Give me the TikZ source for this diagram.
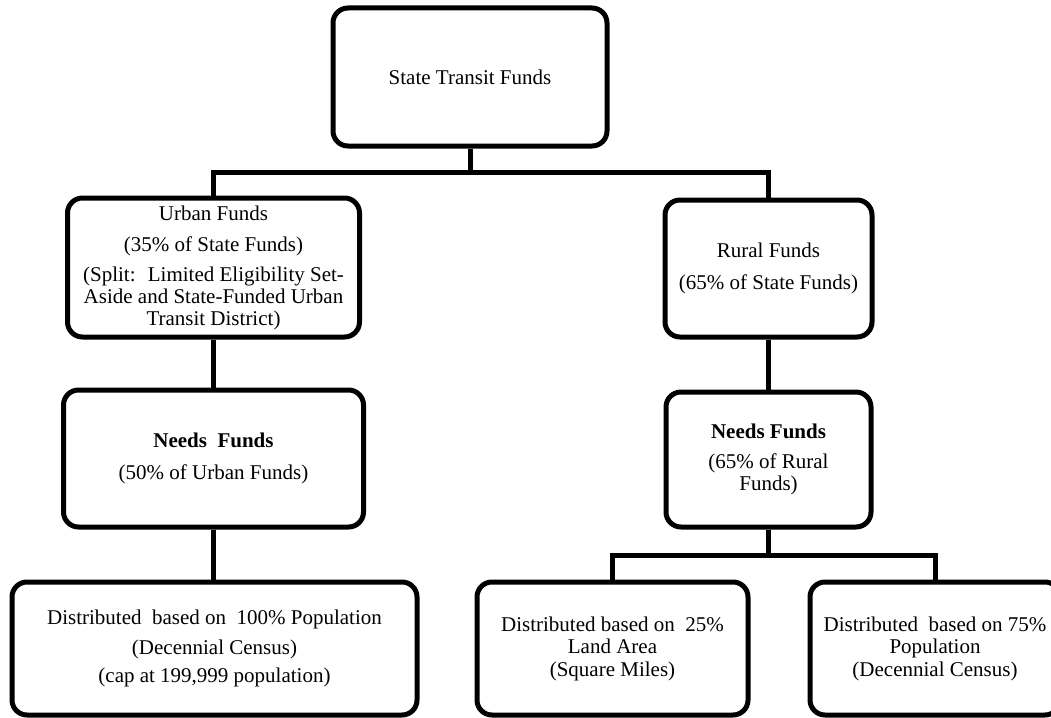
\documentclass[tikz,border=0pt]{standalone}
\usepackage{fontspec}
\setmainfont{Liberation Serif}
\begin{document}
\begin{tikzpicture}[x=1pt,y=-1pt,
  cbox/.style={draw, line width=5pt, rounded corners=15pt, align=center,
    inner sep=0pt, fill=white, font=\fontsize{21}{22}\selectfont},
  conn/.style={line width=5pt}]
\useasboundingbox (0,0) rectangle (1051,717);
\node[cbox, minimum width=274pt, minimum height=138pt] (top) at (470,77) {State Transit Funds};
\node[cbox, minimum width=292pt, minimum height=139pt] (urban) at (213.5,267.5)
  {Urban Funds\\[9pt](35\% of State Funds)\\[8pt](Split:~ Limited Eligibility Set-\\Aside and State-Funded Urban\\Transit District)};
\node[cbox, minimum width=207pt, minimum height=137pt] (rural) at (768.5,268.5)
  {Rural Funds\\[10pt](65\% of State Funds)};
\node[cbox, minimum width=300pt, minimum height=137pt] (uneeds) at (213.5,458.5)
  {\textbf{Needs~ Funds}\\[10pt](50\% of Urban Funds)};
\node[cbox, minimum width=205pt, minimum height=135pt] (rneeds) at (768.5,459.5)
  {\textbf{Needs Funds}\\[8pt](65\% of Rural\\Funds)};
\node[cbox, minimum width=405pt, minimum height=133pt] (bl) at (214.5,648.5)
  {Distributed~ based on~ 100\% Population\\[8pt](Decennial Census)\\[6pt](cap at 199,999 population)};
\node[cbox, minimum width=271pt, minimum height=133pt] (bm) at (612.5,648.5)
  {Distributed based on~ 25\%\\Land Area\\[1pt](Square Miles)};
\node[cbox, minimum width=250pt, minimum height=133pt] (br) at (935,648.5)
  {Distributed~ based on 75\%\\Population\\[1pt](Decennial Census)};
\coordinate (j1) at (470,172);
\coordinate (j2) at (768.5,555);
\draw[conn] (top.south) -- (top.south |- j1);
\draw[conn] (urban.north) |- (j1) -| (rural.north);
\draw[conn] (urban.south) -- (urban.south |- uneeds.north);
\draw[conn] (uneeds.south) -- (uneeds.south |- bl.north);
\draw[conn] (rural.south) -- (rural.south |- rneeds.north);
\draw[conn] (rneeds.south) -- (rneeds.south |- j2);
\draw[conn] (bm.north) |- (j2) -| (br.north);
\end{tikzpicture}
\end{document}
